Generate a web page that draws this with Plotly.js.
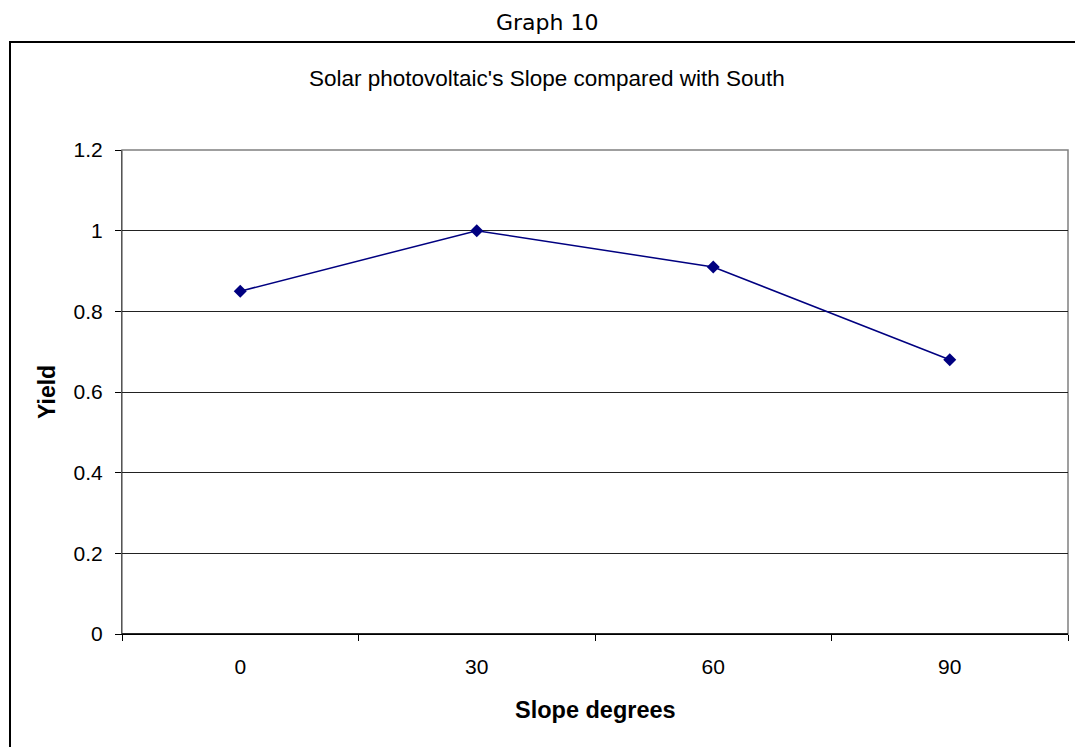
<!DOCTYPE html>
<html>
<head>
<meta charset="utf-8">
<script src="https://cdn.plot.ly/plotly-3.0.1.min.js"></script>
<style>
html,body{margin:0;padding:0;overflow:hidden;background:#fff;}
#chart{width:1075px;height:747px;}
#frame{position:absolute;left:9px;top:41px;width:1200px;height:900px;border:2px solid #000;pointer-events:none;}
</style>
</head>
<body>
<div id="chart"></div>
<div id="frame"></div>
<script>
const categories = ["0", "30", "60", "90"];
const yieldValues = [0.85, 1.0, 0.91, 0.68];
const yTicks = [0, 0.2, 0.4, 0.6, 0.8, 1, 1.2];
const yTickLabels = ["0", "0.2", "0.4", "0.6", "0.8", "1", "1.2"];

const trace = {
  x: categories,
  y: yieldValues,
  type: "scatter",
  mode: "lines+markers",
  line: {color: "#000080", width: 1.5},
  marker: {symbol: "diamond", size: 10, color: "#000080"},
  hoverinfo: "x+y"
};

const layout = {
  width: 1075, height: 747,
  margin: {l: 122, r: 7, t: 150, b: 113},
  paper_bgcolor: "#fff",
  plot_bgcolor: "#fff",
  showlegend: false,
  font: {family: "Liberation Sans, Arial, sans-serif", size: 21, color: "#000"},
  xaxis: {
    type: "category",
    range: [-0.5, 3.5],
    tickson: "boundaries",
    ticks: "outside",
    ticklen: 6,
    tickcolor: "#000",
    showgrid: false,
    showline: true,
    linecolor: "#000",
    linewidth: 1,
    ticklabelstandoff: 14,
    tickfont: {size: 21},
    fixedrange: true
  },
  yaxis: {
    range: [0, 1.2],
    tickvals: yTicks,
    ticktext: yTickLabels,
    ticks: "outside",
    ticklen: 6,
    tickcolor: "#000",
    showgrid: true,
    gridcolor: "#222",
    gridwidth: 1,
    zeroline: false,
    showline: true,
    linecolor: "#555",
    linewidth: 1,
    ticklabelstandoff: 8,
    tickfont: {size: 21},
    fixedrange: true
  },
  shapes: [
    {type: "rect", xref: "paper", yref: "paper", x0: 0, x1: 1, y0: 0, y1: 1,
     line: {color: "#808080", width: 1.5}, layer: "below"},
    {type: "line", xref: "paper", yref: "paper", x0: 0, x1: 1, y0: 0, y1: 0,
     line: {color: "#000", width: 1.5}}
  ],
  annotations: [
    {text: "Graph 10", xref: "paper", yref: "paper", x: 0.4494, y: 1, yshift: 128,
     xanchor: "center", yanchor: "middle", showarrow: false,
     font: {family: "DejaVu Sans, Tahoma, sans-serif", size: 22, color: "#000"}},
    {text: "Solar photovoltaic's Slope compared with South", xref: "paper", yref: "paper",
     x: 0.4494, y: 1, yshift: 72, xanchor: "center", yanchor: "middle", showarrow: false,
     font: {family: "Liberation Sans, Arial, sans-serif", size: 22.5, color: "#000"}},
    {text: "<b>Yield</b>", xref: "paper", yref: "paper", x: 0, xshift: -75, y: 0.5,
     textangle: -90, xanchor: "center", yanchor: "middle", showarrow: false,
     font: {family: "Liberation Sans, Arial, sans-serif", size: 23, color: "#000"}},
    {text: "<b>Slope degrees</b>", xref: "paper", yref: "paper", x: 0.5, y: 0, yshift: -76,
     xanchor: "center", yanchor: "middle", showarrow: false,
     font: {family: "Liberation Sans, Arial, sans-serif", size: 23.5, color: "#000"}}
  ]
};

Plotly.newPlot("chart", [trace], layout, {displayModeBar: false, staticPlot: false});
</script>
</body>
</html>
